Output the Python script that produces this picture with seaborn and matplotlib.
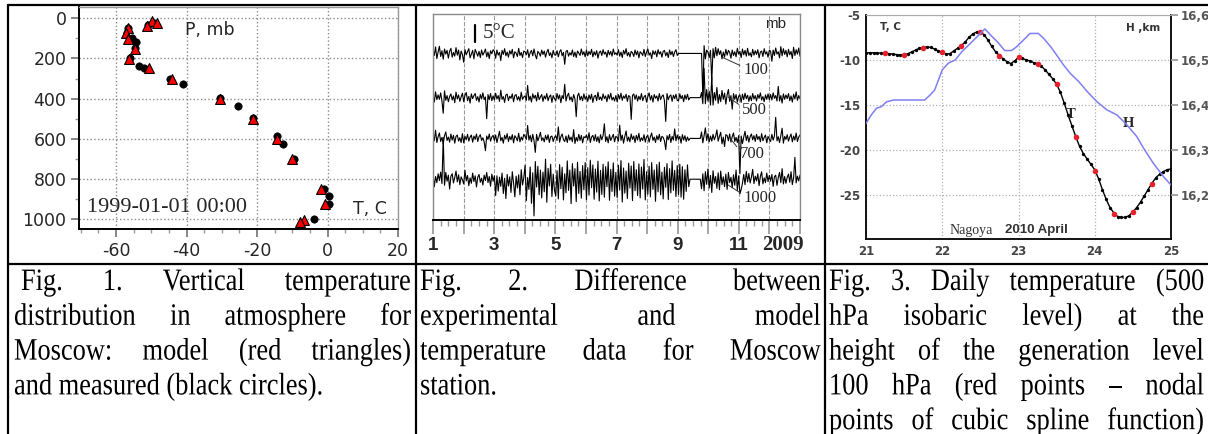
import numpy as np
import matplotlib
matplotlib.use('Agg')
import matplotlib.pyplot as plt
from matplotlib.patheffects import AbstractPathEffect
from matplotlib.transforms import Affine2D
import seaborn as sns

sns.set_theme(style='white')
plt.rcParams['font.family'] = 'DejaVu Sans'
plt.rcParams['axes.unicode_minus'] = False

# ---- Fig. 1 : vertical profile, Moscow 1999-01-01 ----
model_t = [-49.9, -48.4, -51.3, -56.7, -57.1, -56.5, -54.6, -56.2, -50.6, -44.0,
           -30.4, -21.0, -14.3, -10.1, -1.8, -0.6, -6.6, -7.9]
model_p = [12, 22, 38, 50, 71, 104, 154, 204, 249, 303,
           401, 501, 602, 701, 851, 923, 1006, 1016]
meas_t = [-49.2, -50.8, -56.5, -55.5, -54.3, -54.6, -56.0, -53.4, -52.0, -44.6, -41.1,
          -30.6, -25.4, -21.0, -14.2, -12.5, -9.4, -0.9, 0.5, 0.3, -3.7]
meas_p = [25, 33, 50, 99, 116, 149, 199, 237, 249, 302, 327,
          398, 439, 497, 584, 625, 701, 849, 884, 923, 1000]

# ---- Fig. 2 : experiment - model differences (deg C), Moscow 2009, one row per month ----
levels = ['100', '500', '700', '1000']
d100 = [
    1.2, -0.6, 1.9, -1.5, 0.4, 2.1, -0.9, 0.8, -1.7, 1.3, -0.2, 0.9, -1.4, 0.6, 1.5, -1.1, 0.3, -0.8, 1.7, -0.5, 1.0, -1.9, 0.7, -0.3,
    -2.6, 1.1, -0.4, 0.5, 1.4, -1.3, -0.2, 0.9, -1.6, 1.2, 0.2, -0.8, 0.6, -1.2, 1.0, -0.5, 0.3, 1.3, -1.0, 0.4, -1.5, 0.8, -0.1, 1.1,
    0.6, -1.4, 1.0, -0.5, 0.3, -2.1, 0.9, -0.3, 1.4, -0.7, 0.4, -1.1, 0.8, -0.2, 1.2, -1.3, 0.5, 0.1, -0.9, 1.5, -0.6, 0.3, -1.2, 0.7,
    0.5, -0.4, 1.1, -1.2, 0.2, 0.9, -0.7, 1.3, -0.5, -1.6, 0.6, 0.1, -0.8, 1.0, -0.3, 0.7, -1.1, 0.4, 1.2, -0.6, 0.2, -1.3, 0.9, -0.4,
    -0.5, 0.8, -1.0, 0.5, 1.1, -0.7, 0.3, -3.2, 0.6, 0.9, -0.8, 0.2, -0.5, 1.0, -0.9, 0.4, -1.2, 0.7, 0.1, -0.6, 1.3, -0.4, 0.5, -1.0,
    1.0, -0.7, 0.6, -0.3, 1.2, -1.0, 0.5, -0.5, 0.8, -1.4, 0.3, 0.7, -0.6, 1.1, -0.2, 0.4, -1.1, 0.9, -0.4, 0.6, -0.8, 1.3, -0.3, 0.2,
    -0.5, 1.1, -0.8, 0.4, -1.2, 0.9, -0.2, 1.4, -0.7, 0.3, -1.0, 0.6, 0.2, -0.9, 1.0, -0.4, 0.7, -1.3, 0.5, 0.1, -0.6, 1.2, -0.9, 0.4,
    1.3, -0.5, 0.2, -1.5, 0.8, -0.3, 0.7, -1.0, 1.1, -0.2, 0.5, -1.1, 0.6, 0.9, -0.7, 0.3, -1.2, 1.0, -0.4, 0.6, -0.9, 0.4, 1.1, -0.6,
    0.0, 0.0, 0.0, 0.0, 0.0, 0.0, 0.0, 0.0, 0.0, 0.0, 0.0, 0.0, 0.0, 0.0, 0.0, 0.0, 0.0, 0.0, 0.0, -12.5, 2.3, -1.6, 1.0, 0.4,
    -1.2, 0.9, -8.2, 1.4, -1.3, 1.8, -0.7, 1.4, -0.3, 0.8, -1.6, 0.4, -1.1, 1.2, -0.5, 0.9, 0.3, -1.4, 1.0, -0.6, 0.5, -1.0, 1.5, -0.2,
    0.6, -1.2, 1.3, -0.4, 0.9, -0.8, 1.5, -0.6, 0.2, -1.0, 1.2, -0.5, 0.8, -0.3, 1.1, -1.3, 0.4, 0.7, -0.9, 1.4, -0.2, 0.5, -1.1, 0.9,
    0.7, -2.3, 1.0, -0.6, 1.6, -0.2, 0.5, -1.3, 2.0, -0.7, 1.4, -0.3, 0.9, -1.0, 1.2, -0.4, 0.6, -1.5, 1.8, -0.6, 1.1, -0.2, 1.6, -0.8]
d500 = [
    0.9, -1.3, 1.7, -0.6, 0.8, -0.5, 1.4, -1.0, -4.6, 2.0, -0.8, 0.6, -1.2, 0.3, 1.1, -0.7, 0.5, -1.5, 1.6, -0.4, 0.8, -1.1, 0.2, 1.3,
    -1.2, 0.7, 1.5, -0.9, 0.4, -1.6, 1.1, -0.3, 0.6, 1.2, -0.8, 0.3, -1.3, 0.9, -0.4, 1.4, -0.6, 0.2, -6.2, 0.9, -0.6, 1.2, -0.9, 0.5,
    -0.7, 1.3, -0.4, 0.6, -1.1, 2.2, -0.5, 0.3, -1.4, 0.8, 1.0, -0.9, 0.4, -0.2, 1.1, -1.2, 0.6, 0.9, -0.7, 0.3, -1.0, 1.6, -0.5, 0.2,
    0.5, -0.8, 3.6, -0.8, 0.4, -1.3, 1.1, -0.2, 0.7, -1.0, 1.5, -0.6, 0.2, 0.9, -1.1, 0.5, -0.4, 1.2, -0.9, 0.3, 0.8, -1.4, 0.6, -0.3,
    -0.9, 1.2, -0.4, 0.8, -1.5, 0.6, -0.3, 3.9, -1.0, 0.5, 1.3, -0.7, 0.2, -1.2, 0.9, -0.4, -5.6, 0.5, 1.3, -0.7, 0.4, -0.9, 1.1, -0.5,
    0.4, -1.1, 0.8, -0.5, 1.0, -1.4, 0.3, 0.7, -0.9, 1.6, -0.6, 0.2, -0.8, 1.1, -0.3, 0.5, -1.2, 0.9, -0.4, 1.3, -0.7, 0.1, -1.0, 0.6,
    -1.2, 0.9, -0.4, 1.3, -0.8, 0.5, -0.2, 1.0, -1.1, 0.6, 0.3, -6.4, 0.6, 1.1, -0.5, 0.8, -1.0, 0.4, -0.6, 1.2, -0.9, 0.2, 0.7, -1.3,
    0.3, 1.4, -0.7, 0.6, -1.3, 0.9, -0.2, 0.5, -1.0, 1.2, -0.6, 0.4, 0.8, -0.9, -7.0, 1.2, -0.6, 0.4, 0.8, -1.1, 0.7, -0.3, 1.0, -0.8,
    -0.9, 1.1, -0.3, 0.6, -1.2, 0.8, -0.5, 1.0, -0.7, 0.0, 0.0, 0.0, 0.0, 0.0, 0.0, 0.0, 0.0, 0.0, 1.5, -1.8, 8.6, -1.8, 2.4, -1.0,
    1.9, -2.2, 6.1, -2.2, 1.5, -0.8, 3.0, -1.7, 0.9, -1.2, 2.1, -0.5, 1.3, -1.9, 0.8, 2.4, -1.1, 0.6, -3.4, 1.2, -0.5, 0.9, -1.3, 0.4,
    0.8, -1.4, 1.0, -0.6, 1.3, -0.3, 0.7, -1.1, 0.5, -0.9, 1.2, -0.4, 0.6, -1.0, 0.9, -0.2, 1.4, -0.7, 0.3, -1.2, 0.8, -0.5, 1.1, -0.6,
    0.9, -0.7, 1.4, -0.2, 0.6, -1.0, 3.3, -1.0, 0.6, -1.6, 1.1, -0.5, 0.8, -0.3, 1.2, -0.9, 0.5, -1.3, 1.0, -0.4, 1.7, -0.8, 0.6, -0.3]
d700 = [
    1.1, -0.7, 2.4, -1.2, 0.5, 1.6, -0.9, 0.3, -1.5, 0.8, 1.9, -0.6, 0.4, -1.1, 1.3, -0.5, 0.9, -1.4, 0.6, 1.0, -0.8, 0.2, -1.2, 1.4,
    -1.3, 0.6, -0.4, 1.2, -0.8, 0.4, 1.0, -1.1, 0.7, -0.3, 1.3, -0.9, 0.5, 1.1, -0.6, 0.2, -1.0, -3.6, 0.7, -0.3, 1.3, -0.8, 0.4, 0.9,
    -0.6, 1.0, -1.2, 0.5, 2.1, -0.7, 0.3, -1.4, 0.9, -0.2, 1.4, -0.9, 0.6, -0.4, 1.1, -1.3, 0.8, 0.2, -0.7, 1.5, -1.0, 0.4, -0.5, 1.2,
    0.6, -0.3, 3.8, -0.5, 0.9, -1.0, 1.2, -0.7, -4.1, 1.2, -0.7, 0.4, 1.8, -0.6, 0.2, -1.0, 0.9, -0.4, 1.1, -1.2, 0.5, 0.7, -0.9, 0.3,
    0.8, -0.6, 3.4, -1.1, 0.5, 1.3, -0.4, -0.9, 0.7, -1.2, 1.0, -0.5, 0.4, -1.0, 2.6, -1.5, 0.3, -0.8, 1.2, -0.6, 0.9, -1.3, 0.5, 0.2,
    1.0, -0.5, 1.7, -1.2, 0.4, 0.9, -0.7, 1.1, -0.9, 0.5, -1.3, 1.1, -0.4, 0.8, 4.3, -0.9, 0.5, -1.3, 1.1, -0.6, 0.3, 1.2, -1.0, 0.6,
    0.3, -0.8, 3.9, -0.6, 1.0, -1.4, 0.6, 2.2, -0.8, 0.4, -1.0, 1.3, -0.3, 0.7, -1.2, 0.9, -0.5, 1.5, -0.9, 0.2, -0.6, 1.1, -1.1, 0.5,
    0.9, -1.1, 0.5, 1.6, -0.6, 0.4, -1.2, 0.8, -0.4, 1.2, -0.9, 0.6, 0.3, -0.7, -3.3, 0.8, -0.4, 1.2, -1.2, 0.6, -0.5, 2.8, -0.7, 1.0,
    -0.3, 0.6, -1.4, 1.1, -0.5, 0.8, -0.9, 0.4, -0.6, 0.0, 0.0, 0.0, 0.0, 0.0, 0.0, 0.0, 0.0, 0.0, 1.9, -1.3, 0.8, 3.1, -0.6, 1.4,
    -1.0, 0.7, -0.8, 1.2, -0.4, 0.6, 2.5, -0.8, 0.6, 1.8, -1.6, 0.4, -2.4, 1.1, 0.9, -0.7, 1.3, -1.1, 0.5, 1.6, -0.9, 0.3, -1.2, 0.8,
    -10.4, 0.7, -1.5, 0.4, 2.1, -0.6, 0.9, -1.1, 0.5, 1.3, -0.4, 0.8, -0.9, 1.2, -0.3, 0.6, -1.0, 1.4, -0.7, 0.3, 1.0, -1.3, 0.6, -0.2,
    -0.9, 1.2, -0.5, 0.7, 6.2, -0.7, 0.5, -1.2, 0.8, 3.0, -1.4, 0.6, -0.3, 1.1, -0.8, 0.4, 1.3, -1.0, 0.7, -0.5, 1.6, -0.9, 0.4, 1.0]
d1000 = [
    1.5, -2.2, 0.8, -1.0, 1.6, -0.4, 2.1, -1.3, 12.3, -1.8, 2.0, -0.6, 1.2, -2.9, 0.9, 1.6, -1.1, 0.5, 2.4, -0.8, 1.3, -1.6, 0.7, -0.2,
    -1.4, 2.6, -0.5, 1.1, -1.9, 0.4, -1.2, 1.8, -0.7, 1.0, -2.3, 0.6, 1.4, -0.9, 0.3, -1.7, 1.2, -0.4, 2.0, -1.0, 0.8, -2.1, 1.5, -0.6,
    1.0, -4.8, 1.0, -3.5, 0.6, -2.1, 1.8, -4.2, 0.3, -5.7, 1.4, -2.0, 0.7, -3.9, 2.2, -1.1, -5.2, 0.9, -2.6, 1.3, -4.6, 2.8, -1.7, 0.4,
    4.1, -6.3, 0.5, -3.0, 3.6, -7.1, 1.9, -10.8, 5.2, -2.3, 3.8, -4.6, 2.7, -5.5, 2.1, -3.7, 5.9, -6.8, 3.2, -2.0, 4.4, -5.1, 1.5, -3.3,
    -4.9, 2.5, -5.8, 4.3, -2.8, 3.5, -6.1, 1.6, -4.0, 5.4, -3.3, 2.7, -7.2, 4.6, -2.0, 3.1, -6.6, 5.0, -4.2, 2.3, -5.6, 4.0, -3.1, 4.9,
    -6.0, 3.4, -4.7, 5.6, -2.5, 4.2, -5.9, 3.0, -3.8, 5.3, -6.4, 2.6, -4.5, 4.4, -5.3, 3.7, -2.2, 5.1, -6.2, 2.9, -3.6, 4.8, -5.0, 2.0,
    -5.4, 4.1, -3.2, 5.5, -6.7, 3.3, -4.1, 2.4, -5.7, 4.7, -2.6, 3.9, -6.3, 5.2, -3.4, 2.8, -4.8, 4.5, -5.5, 3.6, -2.9, 5.8, -6.1, 2.2,
    -4.4, 3.8, -5.2, 4.9, -3.0, 2.7, -6.5, 4.3, -3.7, 5.0, -4.6, 2.1, -5.8, 3.5, -2.4, 4.6, -6.0, 3.1, -4.0, 5.4, -3.3, 2.6, -5.1, 4.0,
    -4.5, 4.4, -5.3, 3.7, -5.9, 2.8, -3.6, 4.2, -2.2, 0.0, 0.0, 0.0, 0.0, 0.0, 0.0, 0.0, 0.0, 0.0, -2.8, 1.6, -3.4, 2.2, -1.5, 3.0,
    -2.6, 1.1, -3.9, 2.5, -1.2, 0.8, -2.7, 1.9, -3.1, 2.4, -1.6, 0.7, -2.2, 1.5, -3.0, 2.0, -1.0, 0.6, -2.5, 1.3, -1.8, 2.7, -3.3, 1.0,
    -4.3, -3.0, -1.2, 1.4, -1.6, 2.3, -0.8, 1.7, -1.1, 0.6, 2.9, -1.3, 0.9, -0.5, 1.6, -1.9, 0.8, 2.2, -1.4, 0.4, -1.0, 1.8, -0.7, 1.1,
    -0.6, 1.4, -2.1, 0.7, 1.2, -1.8, 0.5, 2.0, -1.0, 3.1, -1.4, 0.8, -1.2, 0.6, 1.5, -0.9, 2.2, -1.6, 0.4, 6.4, -1.1, 0.9, -0.5, 1.2]
month_labels = ['1', '', '3', '', '5', '', '7', '', '9', '', '11', '', '']

# ---- Fig. 3 : Nagoya, April 2010 ----
t_days = [21.00, 21.05, 21.10, 21.15, 21.20, 21.25, 21.30, 21.35, 21.40, 21.45,
          21.50, 21.55, 21.60, 21.65, 21.70, 21.75, 21.80, 21.85, 21.90, 21.95,
          22.00, 22.05, 22.10, 22.15, 22.20, 22.25, 22.30, 22.35, 22.40, 22.45,
          22.50, 22.55, 22.60, 22.65, 22.70, 22.75, 22.80, 22.85, 22.90, 22.95,
          23.00, 23.05, 23.10, 23.15, 23.20, 23.25, 23.30, 23.35, 23.40, 23.45,
          23.50, 23.55, 23.60, 23.65, 23.70, 23.75, 23.80, 23.85, 23.90, 23.95,
          24.00, 24.05, 24.10, 24.15, 24.20, 24.25, 24.30, 24.35, 24.40, 24.45,
          24.50, 24.55, 24.60, 24.65, 24.70, 24.75, 24.80, 24.85, 24.90, 24.95, 25.00]
t_vals = [-9.2, -9.2, -9.2, -9.2, -9.25, -9.25, -9.3, -9.35, -9.4, -9.45,
          -9.4, -9.3, -9.1, -8.9, -8.7, -8.6, -8.55, -8.6, -8.8, -9.0,
          -9.15, -9.35, -9.3, -9.0, -8.7, -8.4, -8.0, -7.5, -7.1, -6.9,
          -6.9, -7.2, -7.8, -8.5, -9.1, -9.5, -9.9, -10.2, -10.4, -10.1,
          -9.7, -9.8, -10.0, -10.1, -10.3, -10.4, -10.7, -11.1, -11.6, -12.1,
          -12.7, -13.6, -14.8, -16.1, -17.3, -18.5, -19.6, -20.4, -21.0, -21.6,
          -22.2, -23.2, -24.4, -25.5, -26.4, -27.0, -27.4, -27.5, -27.5, -27.3,
          -26.9, -26.4, -25.8, -25.1, -24.4, -23.7, -23.1, -22.7, -22.4, -22.2, -22.1]
node_days = [21.25, 21.5, 21.75, 22.0, 22.25, 22.5, 22.75, 23.0,
             23.25, 23.5, 23.75, 24.0, 24.25, 24.5, 24.75]
node_vals = [-9.25, -9.4, -8.7, -9.1, -8.4, -6.9, -9.55, -9.7,
             -10.4, -12.7, -18.6, -22.3, -27.1, -26.9, -23.8]
h_days = [21.0, 21.07, 21.14, 21.2, 21.27, 21.36, 21.77, 21.84, 21.9, 22.0,
          22.08, 22.17, 22.26, 22.37, 22.5, 22.56, 22.63, 22.72, 22.82, 22.91,
          22.98, 23.11, 23.15, 23.26, 23.33, 23.42, 23.5, 23.59, 23.68, 23.79,
          23.9, 24.03, 24.16, 24.29, 24.42, 24.55, 24.64, 24.77, 24.9, 25.0]
h_vals = [16.359, 16.378, 16.393, 16.396, 16.407, 16.411, 16.411, 16.422, 16.433, 16.478,
          16.493, 16.500, 16.519, 16.537, 16.559, 16.569, 16.556, 16.541, 16.521, 16.521,
          16.530, 16.552, 16.559, 16.559, 16.548, 16.530, 16.511, 16.489, 16.470, 16.452,
          16.430, 16.407, 16.389, 16.378, 16.356, 16.330, 16.304, 16.270, 16.241, 16.222]

captions = [
    [' Fig. 1. Vertical temperature', 'distribution in atmosphere for',
     'Moscow: model (red triangles)', 'and measured (black circles).'],
    ['Fig. 2. Difference between', 'experimental and model',
     'temperature data for Moscow', 'station.'],
    ['Fig. 3. Daily temperature (500', 'hPa isobaric level) at the',
     'height of the generation level', '100 hPa (red points \u2013 nodal',
     'points of cubic spline function)'],
]
# number of lines in each caption that are set flush (justified)
justified = [3, 3, 5]


class VStretch(AbstractPathEffect):
    # the scanned captions are taller than they are wide
    def __init__(self, sy):
        super().__init__()
        self._sy = sy

    def draw_path(self, renderer, gc, tpath, affine, rgbFace=None):
        renderer.draw_path(gc, tpath, Affine2D().scale(1, self._sy) + affine, rgbFace)


W, H = 1208, 434
fig = plt.figure(figsize=(W / 100, H / 100), dpi=100)


def px_axes(l, t, r, b):
    return fig.add_axes([l / W, 1 - b / H, (r - l) / W, (b - t) / H])


# table frame and captions on a full-figure pixel axes
ax0 = fig.add_axes([0, 0, 1, 1])
ax0.set_xlim(0, W)
ax0.set_ylim(H, 0)
ax0.axis('off')
for y in [5, 264]:
    ax0.plot([8, W], [y, y], color='black', lw=1.6)
for x in [8, 416, 825]:
    ax0.plot([x, x], [5, H], color='black', lw=1.6)

r = fig.canvas.get_renderer()
cap_kw = dict(family='Liberation Serif', fontsize=19, va='baseline', ha='left', color='black',
              path_effects=[VStretch(1.18)])
col_x = [(14, 411), (420, 821), (829, 1204)]
base_y = [290, 324.8, 359.6, 394.4, 429.2]
for (x0, x1), lines, nj in zip(col_x, captions, justified):
    for k, line in enumerate(lines):
        if k >= nj:
            ax0.text(x0, base_y[k], line, **cap_kw)
            continue
        lead = 7 if line.startswith(' ') else 0
        words = line.split()
        txts = [ax0.text(0, base_y[k], w, **cap_kw) for w in words]
        widths = [t.get_window_extent(renderer=r).width for t in txts]
        gap = (x1 - x0 - lead - sum(widths)) / (len(words) - 1)
        xx = x0 + lead
        for t, w in zip(txts, widths):
            t.set_x(xx)
            xx += w + gap

# ---- panel 1 ----
ax1 = px_axes(79, 7, 398, 229)
sns.scatterplot(x=meas_t, y=meas_p, color='black', marker='o', s=28,
                edgecolor='black', linewidth=0.5, ax=ax1, zorder=3)
sns.scatterplot(x=model_t, y=model_p, color='red', marker='^', s=50,
                edgecolor='black', linewidth=0.8, ax=ax1, zorder=4)
ax1.set_xlim(-70.5, 20)
ax1.set_ylim(1049, -56)
ax1.set_xticks([-60, -40, -20, 0, 20])
ax1.set_yticks([0, 200, 400, 600, 800, 1000])
ax1.set_xticks(np.arange(-70, 21, 5), minor=True)
ax1.set_yticks(np.arange(0, 1001, 100), minor=True)
ax1.grid(True, which='major', ls=':', color='#8a8a8a', lw=1)
ax1.tick_params(which='major', direction='out', length=6, color='#777', labelsize=12.5, pad=3)
ax1.tick_params(which='minor', direction='out', length=3, color='#999')
ax1.tick_params(axis='x', bottom=True, which='both')
ax1.tick_params(axis='y', left=True, which='both')
for s in ['left', 'bottom']:
    ax1.spines[s].set_color('black')
    ax1.spines[s].set_linewidth(1.4)
for s in ['top', 'right']:
    ax1.spines[s].set_color('#999')
    ax1.spines[s].set_linewidth(1)
ax1.text(-40.4, 58, 'P, mb', fontsize=12.5, va='center', ha='left')
ax1.text(-68.2, 944, '1999-01-01 00:00', family='Liberation Serif', fontsize=16, va='center', ha='left')
ax1.text(7.1, 949, 'T, C', fontsize=12.5, va='center', ha='left')

# ---- panel 2 ----
ax2 = px_axes(433, 14, 800, 220)
x_days = np.linspace(1, 13, len(d100))
level_offsets = [49, 36, 24, 12]
for vals, off in zip([d100, d500, d700, d1000], level_offsets):
    sns.lineplot(x=x_days, y=np.array(vals) + off, color='black', lw=0.8,
                 ax=ax2, legend=False, estimator=None)
ax2.set_xlim(1, 13)
ax2.set_ylim(0, 60.6)
ax2.set_yticks([])
ax2.set_xticks(np.arange(1, 14))
ax2.set_xticklabels(month_labels, family='Liberation Sans', fontweight='bold', fontsize=13.5)
ax2.set_xticks(np.arange(1, 13.01, 0.25), minor=True)
ax2.grid(True, axis='x', which='major', ls='--', color='#9a9a9a', lw=0.8)
ax2.tick_params(axis='x', which='major', bottom=True, direction='out', length=10, color='#999', pad=2)
ax2.tick_params(axis='x', which='minor', bottom=True, direction='out', length=4, color='#999')
for s in ['left', 'top', 'right']:
    ax2.spines[s].set_color('#8a8a8a')
    ax2.spines[s].set_linewidth(1)
ax2.spines['bottom'].set_color('black')
ax2.spines['bottom'].set_linewidth(1.4)
ax2.text(12.45, -0.072, '2009', transform=ax2.get_xaxis_transform(), family='Liberation Serif',
         fontweight='bold', fontsize=15, ha='center', va='top')
ax2.plot([2.37, 2.37], [52.4, 57.4], color='black', lw=1.6)
ax2.text(2.62, 55.0, '5\u00b0C', family='Liberation Serif', fontsize=15, va='center', ha='left')
ax2.text(11.86, 57.7, 'mb', family='Liberation Sans', fontsize=11, va='center', ha='left')
lab_pos = [(11.14, 44.1), (11.1, 32.4), (11.04, 19.4), (11.14, 6.5)]
anchor = [(10.45, 47.9), (10.65, 36.2), (10.71, 24.1), (10.65, 10.3)]
for name, (tx, ty), (ax_, ay_) in zip(levels, lab_pos, anchor):
    ax2.annotate(name, xy=(ax_, ay_), xytext=(tx, ty), family='Liberation Serif', fontsize=12,
                 va='center', ha='left',
                 arrowprops=dict(arrowstyle='-', lw=0.7, color='#333', relpos=(0, 0.7),
                                 shrinkA=0, shrinkB=0))

# ---- panel 3 ----
ax3 = px_axes(866, 15, 1171, 239)
sns.lineplot(x=t_days, y=t_vals, color='black', lw=1.0, marker='o', markersize=2.4,
             markeredgewidth=0, ax=ax3, legend=False, estimator=None, zorder=3)
sns.scatterplot(x=node_days, y=node_vals, color='#e8202a', s=16, linewidth=0, ax=ax3, zorder=4)
ax3.set_xlim(21, 25)
ax3.set_ylim(-29.9, -5)
ax3.set_xticks([21, 22, 23, 24, 25])
ax3.set_yticks([-25, -20, -15, -10, -5])
ax3.grid(True, ls=':', color='#b0b0b0', lw=0.9)
ax3.tick_params(axis='both', labelsize=8.5, labelcolor='#444', length=0, pad=4)
for lab in ax3.get_xticklabels() + ax3.get_yticklabels():
    lab.set_fontweight('bold')
for s in ['left', 'bottom', 'right']:
    ax3.spines[s].set_color('black')
    ax3.spines[s].set_linewidth(1.3)
ax3.spines['top'].set_color('#aaa')
ax3.spines['top'].set_linewidth(0.8)

ax3b = ax3.twinx()
sns.lineplot(x=h_days, y=h_vals, color='#7f7ff2', lw=1.1, ax=ax3b, legend=False, estimator=None, zorder=2)
ax3b.set_ylim(16.102, 16.6)
ax3b.set_yticks([16.2, 16.3, 16.4, 16.5, 16.6])
ax3b.set_yticklabels(['16,2', '16,3', '16,4', '16,5', '16,6'], fontweight='bold')
ax3b.tick_params(axis='y', right=True, labelsize=8.5, labelcolor='#555', length=5, color='#999', pad=2)
ax3b.set_ylabel('')
ax3b.grid(False)
for s in ax3b.spines.values():
    s.set_visible(False)

ax3.text(21.18, -6.3, 'T, C', fontsize=7.5, fontweight='bold', color='#333', va='center', ha='left')
ax3.text(24.86, -6.4, 'H ,km', fontsize=7.5, fontweight='bold', color='#333', va='center', ha='right')
ax3.text(23.68, -16.1, 'T', family='Liberation Serif', fontsize=10.5, fontweight='bold', va='center', ha='center')
ax3.text(24.44, -17.1, 'H', family='Liberation Serif', fontsize=10.5, fontweight='bold', va='center', ha='center')
ax3.text(22.1, -28.9, 'Nagoya', family='Liberation Serif', fontsize=10, color='#333', va='center', ha='left')
ax3.text(22.82, -28.9, '2010 April', family='Liberation Sans', fontsize=9.5, fontweight='bold',
         color='#333', va='center', ha='left')

fig.savefig('out.png', dpi=100)
